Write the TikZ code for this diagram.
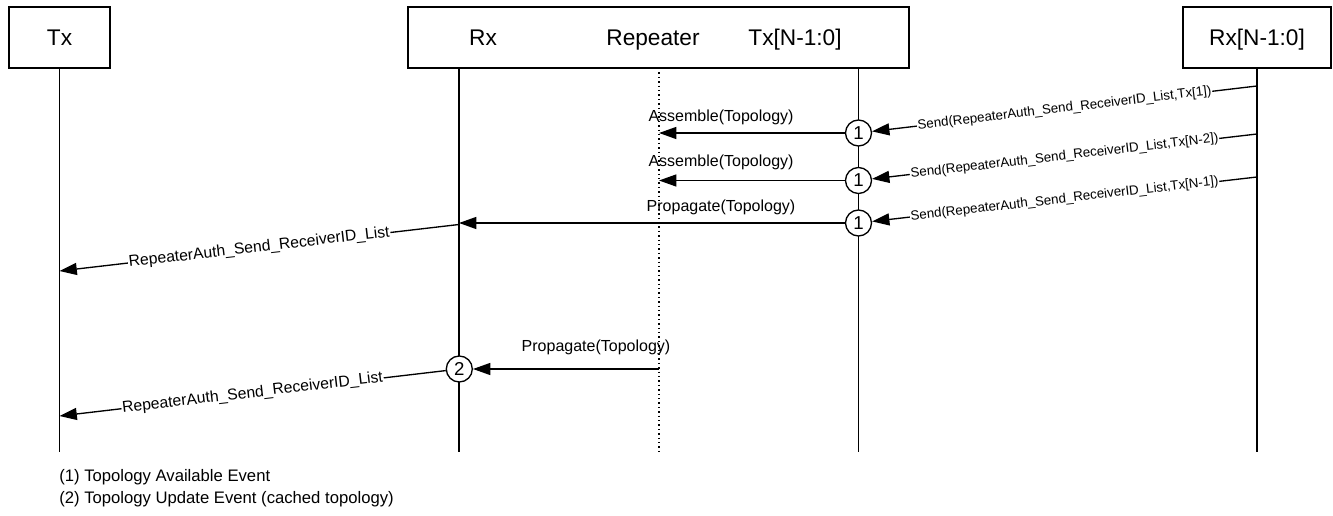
\documentclass[tikz,border=0pt]{standalone}
\usepackage{fontspec}
\setmainfont{Liberation Sans}
\usetikzlibrary{arrows.meta}
\newcommand{\hdrfont}{\fontsize{17}{20}\selectfont}
\begin{document}
\begin{tikzpicture}[x=0.75pt,y=-0.75pt,
  actor/.style={draw, line width=1.3pt, inner sep=0pt, minimum height=45.75pt,
    text height=12.2pt, text depth=0pt, font=\hdrfont},
  hdr/.style={inner sep=0pt, text height=12.2pt, text depth=0pt, font=\hdrfont},
  life/.style={line width=1.3pt},
  reptl/.style={line width=1.1pt, dash pattern=on 1.1pt off 2.2pt},
  msg/.style={line width=1pt, -{Triangle[length=13pt,width=9pt]}},
  evt/.style={circle, draw, line width=1pt, fill=white, inner sep=0pt,
    minimum size=19.5pt, font=\fontsize{14}{16}\selectfont},
  sendlbl/.style={midway, sloped, fill=white, inner sep=0.6pt, font=\fontsize{10}{12}\selectfont},
  authlbl/.style={midway, sloped, fill=white, inner sep=0.6pt, font=\fontsize{11.8}{14}\selectfont},
  actlbl/.style={anchor=base, inner sep=0pt, font=\fontsize{12}{14}\selectfont},
  note/.style={anchor=base west, inner sep=0pt, font=\fontsize{12.5}{15}\selectfont}]
\useasboundingbox (0,0) rectangle (1333,516);

% actor boxes
\node[actor, minimum width=75.75pt] (tx) at (59.5,37.5) {Tx};
\node[actor, minimum width=375.75pt] (rep) at (658.5,37.5) {};
\node[actor, minimum width=111pt] (rxn) at (1257,37.5) {Rx[N-1:0]};
\node[hdr] (rxl) at (483,37.5) {Rx};
\node[hdr] (repl) at (653,37.5) {Repeater};
\node[hdr] (txnl) at (795,37.5) {Tx[N-1:0]};

% lifelines
\coordinate (txEnd) at (59.5,452);
\coordinate (rxTop) at (459,68);   \coordinate (rxEnd) at (459,452);
\coordinate (rpTop) at (659,68);   \coordinate (rpEnd) at (659,452);
\coordinate (tnTop) at (858.5,68); \coordinate (tnEnd) at (858.5,452);
\coordinate (rnEnd) at (1257,452);
\draw[life] (tx.south) -- (txEnd);
\draw[life] (rxTop) -- (rxEnd);
\draw[reptl] (rpTop) -- (rpEnd);
\draw[life] (tnTop) -- (tnEnd);
\draw[life] (rxn.south) -- (rnEnd);

% event markers
\node[evt] (c1a) at (858.5,133) {1};
\node[evt] (c1b) at (858.5,180.5) {1};
\node[evt] (c1c) at (858.5,223) {1};
\node[evt] (c2) at (459.3,369) {2};

% message end points
\coordinate (s1) at (1257,86);
\coordinate (s2) at (1257,134);
\coordinate (s3) at (1257,177);
\coordinate (a1) at (659,133);
\coordinate (a2) at (659,180.5);
\coordinate (p1) at (459,223);
\coordinate (r1) at (459,224.5);
\coordinate (t1) at (59.5,271);
\coordinate (p2) at (659,369);
\coordinate (t2) at (59.5,416);

% messages
\draw[msg] (s1) -- (c1a) node[sendlbl] (m1) {Send(RepeaterAuth\_Send\_ReceiverID\_List,Tx[1])};
\draw[msg] (s2) -- (c1b) node[sendlbl] (m2) {Send(RepeaterAuth\_Send\_ReceiverID\_List,Tx[N-2])};
\draw[msg] (s3) -- (c1c) node[sendlbl] (m3) {Send(RepeaterAuth\_Send\_ReceiverID\_List,Tx[N-1])};
\draw[msg] (c1a) -- (a1);
\draw[msg] (c1b) -- (a2);
\draw[msg] (c1c) -- (p1);
\draw[msg] (r1) -- (t1) node[authlbl] (m4) {RepeaterAuth\_Send\_ReceiverID\_List};
\draw[msg] (p2) -- (c2);
\draw[msg] (c2) -- (t2) node[authlbl] (m5) {RepeaterAuth\_Send\_ReceiverID\_List};

% action labels
\node[actlbl] (asm1) at (721,121.5) {Assemble(Topology)};
\node[actlbl] (asm2) at (721,166.5) {Assemble(Topology)};
\node[actlbl] (prop1) at (721,211.5) {Propagate(Topology)};
\node[actlbl] (prop2) at (596,351.5) {Propagate(Topology)};

% legend
\node[note] (n1) at (59,481) {(1) Topology Available Event};
\node[note] (n2) at (59,503) {(2) Topology Update Event (cached topology)};
\end{tikzpicture}
\end{document}
